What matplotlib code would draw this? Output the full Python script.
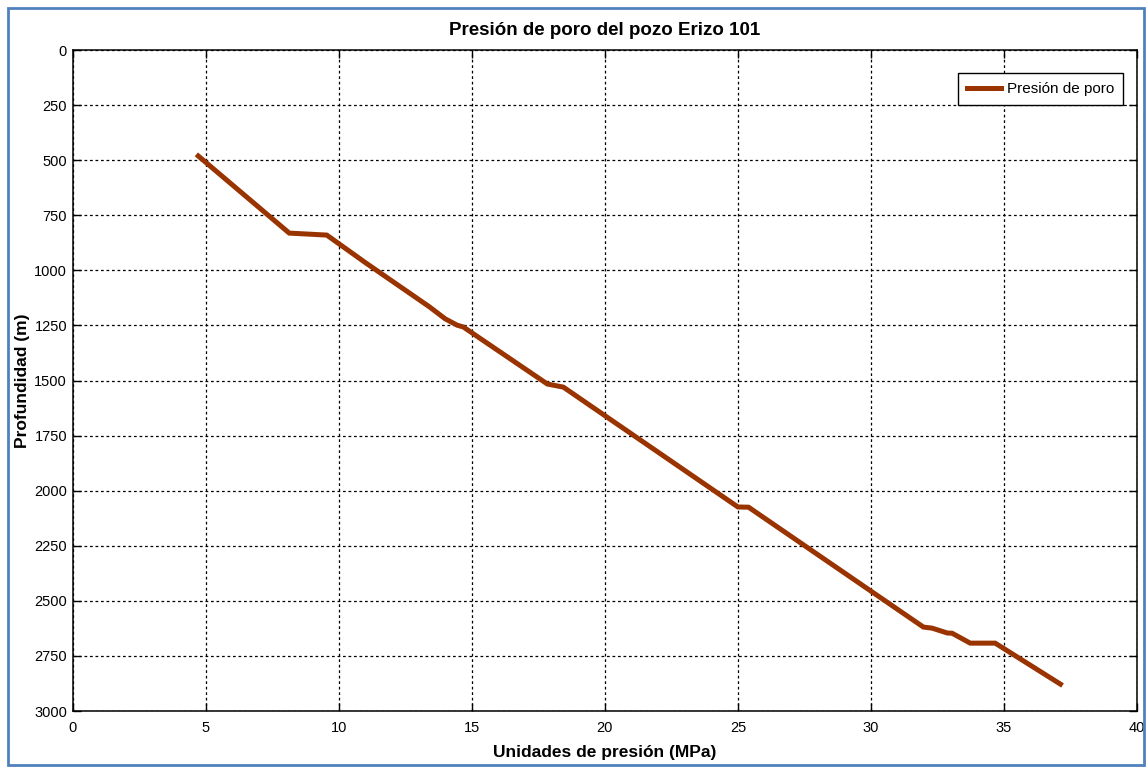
import matplotlib
matplotlib.use("Agg")
import matplotlib.pyplot as plt
from matplotlib.patches import Rectangle

# Pore pressure profile, well Erizo 101
presion_mpa = [4.72, 8.14, 9.55, 11.0, 13.4, 14.0, 14.45, 14.68, 17.84, 18.44,
               25.0, 25.4, 31.97, 32.3, 32.87, 33.05, 33.73, 34.67, 37.12]
profundidad_m = [481, 831, 840, 965, 1165, 1220, 1249, 1257, 1516, 1530,
                 2074, 2075, 2619, 2624, 2646, 2647, 2692, 2692, 2878]

x_ticks = [0, 5, 10, 15, 20, 25, 30, 35, 40]
y_ticks = [0, 250, 500, 750, 1000, 1250, 1500, 1750, 2000, 2250, 2500, 2750, 3000]

titulo = "Presión de poro del pozo Erizo 101"
etiqueta_x = "Unidades de presión (MPa)"
etiqueta_y = "Profundidad (m)"
serie = "Presión de poro"

font = ["Liberation Sans", "DejaVu Sans"]

fig = plt.figure(figsize=(11.46, 7.67), dpi=100)
ax = fig.add_axes([0.0634, 0.0730, 0.9288, 0.8618])

ax.plot(presion_mpa, profundidad_m, color="#993300", linewidth=3.6,
        solid_joinstyle="miter", label=serie)

ax.set_xlim(0, 40)
ax.set_ylim(3000, 0)
ax.set_xticks(x_ticks)
ax.set_yticks(y_ticks)
ax.set_xticklabels([str(v) for v in x_ticks], family=font, fontsize=10.5)
ax.set_yticklabels([str(v) for v in y_ticks], family=font, fontsize=10.5)
ax.tick_params(direction="in", length=6, width=1, top=True, right=True,
               colors="black")
ax.tick_params(axis="x", pad=7)
ax.tick_params(axis="y", pad=4)
ax.grid(True, color="black", linestyle=(0, (2.2, 2.2)), linewidth=0.9)
for s in ax.spines.values():
    s.set_linewidth(1.1)

ax.set_title(titulo, family=font, fontweight="bold", fontsize=13.5, pad=11)
ax.set_xlabel(etiqueta_x, family=font, fontweight="bold", fontsize=12.5)
ax.xaxis.set_label_coords(0.5, -0.052)
ax.set_ylabel(etiqueta_y, family=font, fontweight="bold", fontsize=12.5)
ax.yaxis.set_label_coords(-0.040, 0.5)

leg = ax.legend(loc="upper right", bbox_to_anchor=(0.987, 0.965),
                borderaxespad=0,
                prop={"family": font, "size": 11}, fancybox=False,
                framealpha=1, edgecolor="black", handlelength=2.2,
                borderpad=0.6, handletextpad=0.4)
leg.get_frame().set_linewidth(1.0)

# outer blue frame
fig.patches.append(Rectangle((8 / 1146, 2 / 767), 1136 / 1146, 757 / 767,
                             transform=fig.transFigure, fill=False,
                             edgecolor="#4F81BD", linewidth=2))

fig.savefig("out.png", dpi=100)
